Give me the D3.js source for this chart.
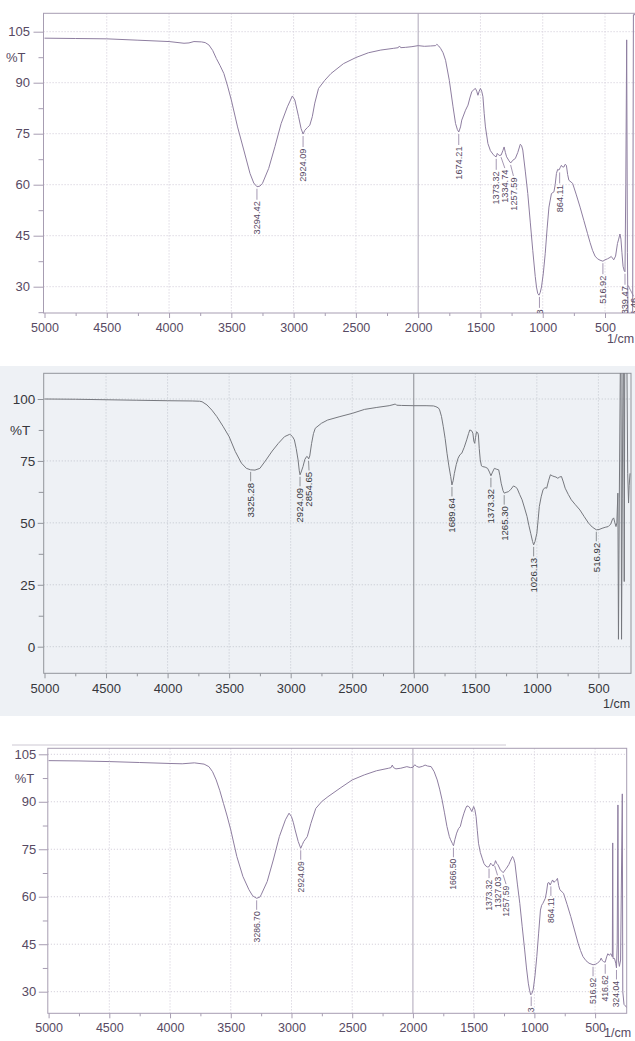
<!DOCTYPE html>
<html><head><meta charset="utf-8">
<script src="https://cdn.jsdelivr.net/npm/d3@7"></script>
<style>body{margin:0;background:#fff}svg{display:block;font-family:"Liberation Sans",Arial,sans-serif}</style>
</head><body>
<script>
// ---------- DATA ----------
const xMajorTicks = [5000,4500,4000,3500,3000,2500,2000,1500,1000,500];
const xMinorTicks = [4750,4250,3750,3250,2750,2250,1750,1250,750];
const yMajorTicks1 = [105,90,75,60,45,30];
const yMinorTicks1 = [97.5,82.5,67.5,52.5,37.5,22.5];
const yMajorTicks2 = [100,75,50,25,0];
const yMinorTicks2 = [87.5,62.5,37.5,12.5];
const yMajorTicks3 = [105,90,75,60,45,30];
const yMinorTicks3 = [97.5,82.5,67.5,52.5,37.5];
const yAxisTitle = "%T";
const xUnit = "1/cm";

const spectrum1 = [[5000,103.1],[4750,103.0],[4500,102.9],[4250,102.5],[4000,102.1],[3880,101.6],[3840,101.7],[3800,102.1],[3740,102.0],[3710,101.8],[3680,101.1],[3650,99.5],[3620,97.1],[3590,95],[3560,92.7],[3530,89],[3500,84.9],[3450,77.0],[3400,70.2],[3350,63.3],[3320,60.5],[3294,59.4],[3270,59.6],[3250,60.4],[3200,64.8],[3150,71.2],[3100,78.0],[3050,82.9],[3010,86.1],[2990,84.9],[2960,80.0],[2940,76.5],[2924,74.9],[2910,76],[2890,76.8],[2870,77.5],[2850,80],[2830,84],[2800,88.3],[2750,90.7],[2700,92.7],[2600,95.6],[2500,97.4],[2400,98.8],[2300,99.6],[2200,100.1],[2160,100.3],[2150,100.8],[2140,100.3],[2100,100.4],[2050,100.6],[2000,100.9],[1950,100.7],[1900,100.8],[1860,100.9],[1850,101.3],[1835,100.8],[1820,100.1],[1800,98.8],[1780,96.6],[1750,90.7],[1720,82.9],[1700,78.0],[1685,76.2],[1674,75.5],[1660,77],[1650,79.0],[1620,81.9],[1600,83.4],[1585,85.5],[1570,87.3],[1550,88.1],[1540,88.3],[1530,87.5],[1520,86.3],[1510,87.5],[1500,88.3],[1490,87.5],[1480,85.9],[1470,81],[1460,77.0],[1440,72.1],[1420,70],[1400,69.0],[1385,68.4],[1373,68.2],[1365,69.2],[1350,68.6],[1334,68.7],[1320,70],[1310,71.1],[1300,69.5],[1290,68.2],[1270,67],[1257,66.4],[1240,67.2],[1220,67.7],[1200,69.5],[1180,71.9],[1170,71.5],[1160,70.2],[1140,64],[1120,57.4],[1100,49],[1080,40.7],[1060,33],[1050,29.9],[1040,28],[1030,27.5],[1020,28.3],[1010,29.9],[995,34],[980,39.7],[965,47],[950,53.4],[930,57.4],[910,57.9],[900,60],[890,63.3],[880,64.5],[870,64.3],[860,65],[850,65.7],[840,65.2],[830,65.2],[820,66],[810,65.7],[800,63],[790,61.3],[760,60.4],[730,57],[700,53.4],[670,49.5],[640,45.6],[620,43],[600,40.7],[580,39],[560,38.2],[540,37.8],[517,37.5],[500,37.9],[480,38.2],[460,38.6],[450,38.9],[440,38.4],[430,37.9],[415,39],[400,42.7],[390,44],[380,45.5],[372,44],[364,40],[355,36],[345,34.6],[339.47,34.4],[333,60],[326,102.6],[320,40],[315,20],[300,20],[278,20],[272,110],[250,110]];

const spectrum2 = [[5000,100],[4750,99.9],[4500,99.7],[4250,99.5],[4000,99.3],[3800,99.2],[3740,99.1],[3720,98.9],[3680,97.6],[3640,95.5],[3600,92.9],[3550,89],[3500,84.8],[3450,78.8],[3400,74.1],[3360,72],[3325,71.4],[3290,71.3],[3250,72.0],[3200,75.4],[3150,79],[3100,82.1],[3050,84.8],[3010,85.7],[3000,85.5],[2985,84.8],[2970,83.5],[2955,80],[2940,75.4],[2930,71],[2924,69.4],[2915,70.5],[2900,72.7],[2885,75.6],[2870,76.8],[2860,76.5],[2854,75.8],[2845,77],[2830,82.1],[2815,86],[2800,88.2],[2750,90.2],[2700,91.5],[2600,92.9],[2500,94.2],[2400,95.8],[2300,96.6],[2200,97.3],[2160,97.8],[2150,98.0],[2140,97.5],[2100,97.4],[2000,97.3],[1900,97.3],[1840,97.2],[1820,96.9],[1800,96.4],[1790,95.6],[1775,93],[1760,88.8],[1745,84],[1730,78.1],[1715,73],[1700,68.7],[1690,65.3],[1680,67],[1670,70.0],[1655,73.5],[1640,76.1],[1625,77.5],[1610,78.1],[1590,80.5],[1570,83.5],[1555,86],[1545,87.5],[1530,87.2],[1520,86.2],[1512,83],[1505,82.1],[1498,84.5],[1490,86.8],[1480,86.3],[1475,85.5],[1468,80],[1460,75.4],[1450,73],[1440,72.7],[1420,72.5],[1400,72.0],[1385,70.5],[1373,69.0],[1360,70.5],[1345,72],[1330,71.7],[1310,71.4],[1300,69],[1290,66.0],[1275,63],[1265,62.0],[1250,62.3],[1230,62.6],[1210,63.6],[1190,64.9],[1175,64.5],[1160,63.9],[1140,61.5],[1120,59.3],[1100,56],[1080,52.6],[1065,49],[1050,45.8],[1035,42.5],[1026,41.1],[1015,42.5],[1000,45.8],[990,51],[980,56.6],[965,60.5],[950,63.3],[935,64.2],[920,64.0],[905,67],[890,69.4],[875,69],[860,68.7],[845,68.5],[830,68.0],[815,68.5],[800,68.7],[785,66.5],[770,64.0],[745,61.5],[720,59.3],[690,57.5],[650,55.2],[615,52.5],[580,49.9],[550,48.3],[517,47.2],[495,47.3],[470,47.8],[445,48.2],[420,48.5],[400,49.5],[385,51.5],[376,52],[366,50],[357,48.5],[350,50],[342,62],[337,3],[330,60],[322,112],[316,112],[312,3],[306,60],[300,112],[294,112],[290,26.3],[286,112],[268,112],[262,70],[255,58],[250,65],[243,70]];

const spectrum3 = [[5000,103.0],[4750,102.9],[4500,102.7],[4250,102.4],[4000,102.1],[3900,102.0],[3800,102.3],[3720,101.9],[3680,101.1],[3650,99.5],[3620,96.9],[3590,93.5],[3560,89.5],[3530,85.5],[3500,81.1],[3450,72.7],[3400,66.4],[3350,62.2],[3320,60.3],[3287,59.5],[3260,59.9],[3250,60.6],[3200,64.8],[3150,71.6],[3100,79.0],[3050,84.3],[3020,86.4],[3000,85.3],[2985,83.5],[2970,81.1],[2945,77.5],[2924,75.3],[2910,76.5],[2900,77.4],[2870,79.0],[2840,83.2],[2800,87.9],[2750,90.1],[2700,91.6],[2600,94.3],[2500,96.9],[2400,98.5],[2300,99.8],[2200,100.6],[2180,100.8],[2170,101.6],[2160,100.8],[2140,100.4],[2100,100.6],[2050,101.1],[2020,100.8],[2000,100.9],[1985,101.7],[1970,101.2],[1950,100.9],[1920,101.2],[1900,101.6],[1880,101.3],[1850,101.1],[1825,99.5],[1800,96.9],[1780,94],[1760,90.6],[1740,86.5],[1720,82.2],[1700,79],[1690,78.0],[1675,76.8],[1666,76.1],[1655,78],[1640,80.1],[1625,81.5],[1610,82.2],[1595,84.5],[1580,86.4],[1565,88],[1555,88.7],[1540,88.5],[1530,88.0],[1515,86.9],[1505,88.0],[1500,88.5],[1490,87.5],[1480,85.3],[1470,81],[1460,76.9],[1445,74],[1430,72.2],[1415,70.5],[1400,69.7],[1385,69.4],[1373,69.5],[1360,70.6],[1350,70.2],[1340,69.7],[1327,70.5],[1320,71.4],[1310,70.5],[1300,70.1],[1280,68.5],[1257,67.6],[1240,68.5],[1230,69.0],[1210,70.2],[1200,71.1],[1180,72.7],[1170,72],[1160,70.6],[1140,64],[1120,57.9],[1100,50.5],[1080,43.2],[1065,37.5],[1050,32.7],[1040,30.5],[1030,29.0],[1020,29.5],[1010,30.6],[995,35],[980,41.1],[965,48.5],[950,55.8],[940,57.3],[930,57.9],[910,59.5],[900,61.5],[890,64.3],[880,64.5],[870,63.7],[860,64.5],[850,65.3],[840,64.6],[830,64.8],[820,65.2],[810,65.8],[800,63.5],[790,62.2],[760,61.1],[730,57.5],[700,53.7],[670,49.5],[640,45.3],[620,43],[600,41.1],[575,39.8],[550,39.0],[517,38.5],[495,38.7],[480,39.0],[460,39.8],[450,40.6],[440,39.8],[430,39.5],[417,39.3],[405,41],[395,42],[385,41.5],[370,42],[358,41],[355,77],[352,40.5],[340,40.5],[330,39],[324,37.5],[318,45],[312,89],[308,40],[300,38],[290,40],[276,92.5],[272,30],[262,26],[250,25.5],[240,25]];

// peak labels: [text, wavenumber, %T at the peak]
const peaks1 = [["3294.42",3294.42,59.4],["2924.09",2924.09,74.9],["1674.21",1674.21,75.5],["1373.32",1373.32,68.2],["1334.74",1334.74,68.7],["1257.59",1257.59,66.4],["1026.13",1026.13,27.6],["864.11",864.11,64.2],["516.92",516.92,37.5],["339.47",339.47,34.4],["315.46",315.46,31]];
const peaks2 = [["3325.28",3325.28,71.4],["2924.09",2924.09,69.4],["2854.65",2854.65,75.8],["1689.64",1689.64,65.3],["1373.32",1373.32,69.0],["1265.30",1265.30,62.0],["1026.13",1026.13,41.1],["516.92",516.92,47.2]];
const peaks3 = [["3286.70",3286.70,59.5],["2924.09",2924.09,75.3],["1666.50",1666.50,76.1],["1373.32",1373.32,69.5],["1327.03",1327.03,70.4],["1257.59",1257.59,67.6],["1026.13",1026.13,29.1],["864.11",864.11,63.9],["516.92",516.92,38.5],["416.62",416.62,39.3],["324.04",324.04,37.5]];

// ---------- LAYOUT ----------
const W = 635, H = 1041;
const purple = {curve:"#8e7ea0", text:"#574a63", axis:"#a79db2", grid:"#d6d1dc", solid:"#aea6b8"};
const grey = {curve:"#76787e", text:"#36373c", axis:"#92959b", grid:"#c9cdd4", solid:"#8a8d93"};

const panels = [
  {spec:spectrum1, peaks:peaks1, yMajor:yMajorTicks1, yMinor:yMinorTicks1, pct:97.5,
   frame:{l:43.5,t:13.3,r:641,b:313}, xr:[44.5,605], yd:[105,30], yr:[31.7,286.7],
   col:purple, yTick:10, yPad:3.5, pctPad:18, yFont:13, labFont:9.2, gap:14.5, sep:8.6, xLabFont:12.5, unit:[607,343]},
  {spec:spectrum2, peaks:peaks2, yMajor:yMajorTicks2, yMinor:yMinorTicks2, pct:87.5,
   frame:{l:43.7,t:373.3,r:631,b:673.3}, xr:[44.5,598.4], yd:[100,0], yr:[399,646.7],
   col:grey, yTick:6, yPad:2.5, pctPad:13.5, yFont:13.5, labFont:9.6, gap:13, sep:9, xLabFont:13, unit:[603,707.5]},
  {spec:spectrum3, peaks:peaks3, yMajor:yMajorTicks3, yMinor:yMinorTicks3, pct:97.5,
   frame:{l:47.8,t:748.3,r:626.7,b:1013.3}, xr:[48.6,595.1], yd:[105,30], yr:[754.3,991.7],
   col:purple, yTick:9, yPad:2.5, pctPad:13.5, yFont:13, labFont:8.6, gap:13, sep:8.5, xLabFont:12.5, unit:[604,1036.5]}
];

const svg = d3.select("body").append("svg").attr("width",W).attr("height",H);
svg.append("rect").attr("width",W).attr("height",H).attr("fill","#fff");
// scanned tint of the middle sheet
svg.append("rect").attr("x",0).attr("y",366).attr("width",W).attr("height",350).attr("fill","#eef1f5");
// paper edge line above third sheet
svg.append("line").attr("x1",12).attr("x2",506).attr("y1",745).attr("y2",745).attr("stroke","#cdc8d3").attr("stroke-width",1);

panels.forEach((p,i)=>{
  const f = p.frame, c = p.col;
  const x = d3.scaleLinear().domain([5000,500]).range(p.xr);
  const y = d3.scaleLinear().domain(p.yd).range(p.yr);
  const g = svg.append("g");
  const clipId = "clip"+i;
  svg.append("clipPath").attr("id",clipId).append("rect")
    .attr("x",f.l).attr("y",f.t).attr("width",f.r-f.l).attr("height",f.b-f.t);

  // grid
  const grid = g.append("g").attr("clip-path",`url(#${clipId})`);
  grid.selectAll("line.h").data(p.yMajor).join("line")
    .attr("x1",f.l).attr("x2",f.r).attr("y1",d=>y(d)).attr("y2",d=>y(d))
    .attr("stroke",c.grid).attr("stroke-dasharray","1.2,1.8").attr("stroke-width",1);
  grid.selectAll("line.v").data(xMajorTicks.filter(d=>d!==5000 && d!==2000)).join("line")
    .attr("x1",d=>x(d)).attr("x2",d=>x(d)).attr("y1",f.t).attr("y2",f.b)
    .attr("stroke",c.grid).attr("stroke-dasharray","1.2,1.8").attr("stroke-width",1);
  grid.append("line").attr("x1",x(2000)).attr("x2",x(2000)).attr("y1",f.t).attr("y2",f.b)
    .attr("stroke",c.solid).attr("stroke-width",1);

  // frame
  g.append("rect").attr("x",f.l).attr("y",f.t).attr("width",f.r-f.l).attr("height",f.b-f.t)
    .attr("fill","none").attr("stroke",c.axis).attr("stroke-width",1);

  // axes
  const styleAxis = sel => {
    sel.select(".domain").remove();
    sel.selectAll("line").attr("stroke",c.axis);
    sel.selectAll("text").attr("fill",c.text).style("font-family","'Liberation Sans',Arial,sans-serif");
  };
  g.append("g").attr("transform",`translate(${f.l},0)`)
    .call(d3.axisLeft(y).tickValues(p.yMajor).tickSize(p.yTick).tickPadding(p.yPad).tickFormat(d3.format("d")))
    .call(styleAxis).selectAll("text").style("font-size",p.yFont+"px");
  g.append("g").attr("transform",`translate(${f.l},0)`)
    .call(d3.axisLeft(y).tickValues(p.yMinor).tickSize(5).tickPadding(p.pctPad-5).tickFormat(d=>d===p.pct?yAxisTitle:""))
    .call(styleAxis).selectAll("text").style("font-size",p.yFont+"px");
  g.append("g").attr("transform",`translate(0,${f.b})`)
    .call(d3.axisBottom(x).tickValues(xMajorTicks).tickSize(5).tickPadding(5).tickFormat(d3.format("d")))
    .call(styleAxis).selectAll("text").style("font-size",p.xLabFont+"px");
  g.append("g").attr("transform",`translate(0,${f.b})`)
    .call(d3.axisBottom(x).tickValues(xMinorTicks).tickSize(3).tickFormat(""))
    .call(styleAxis);
  g.append("text").attr("x",p.unit[0]).attr("y",p.unit[1]).attr("fill",c.text)
    .style("font-size","12.5px").text(xUnit);

  // spectrum
  const plot = g.append("g").attr("clip-path",`url(#${clipId})`);
  plot.append("path").datum(p.spec)
    .attr("d",d3.line().x(d=>x(d[0])).y(d=>y(d[1])))
    .attr("fill","none").attr("stroke",c.curve).attr("stroke-width",1).attr("stroke-linejoin","round");

  // peak labels with simple horizontal de-overlap
  const labs = p.peaks.map(d=>({t:d[0], px:x(d[1]), py:y(d[2])})).sort((a,b)=>a.px-b.px);
  labs.forEach((d,k)=>{ d.lx = d.px; if(k>0 && d.lx < labs[k-1].lx + p.sep) d.lx = labs[k-1].lx + p.sep; });
  labs.forEach(d=>{ d.top = d.py + p.gap; });
  plot.selectAll("line.pk").data(labs).join("line")
    .attr("x1",d=>d.px).attr("y1",d=>d.py+2).attr("x2",d=>d.lx).attr("y2",d=>d.top-1.5)
    .attr("stroke",c.curve).attr("stroke-width",0.8);
  plot.selectAll("text.pk").data(labs).join("text")
    .attr("transform",d=>`translate(${d.lx},${d.top}) rotate(-90)`)
    .attr("text-anchor","end").attr("dy","0.35em")
    .attr("fill",c.text).style("font-size",p.labFont+"px").text(d=>d.t);
});
</script>
</body></html>
